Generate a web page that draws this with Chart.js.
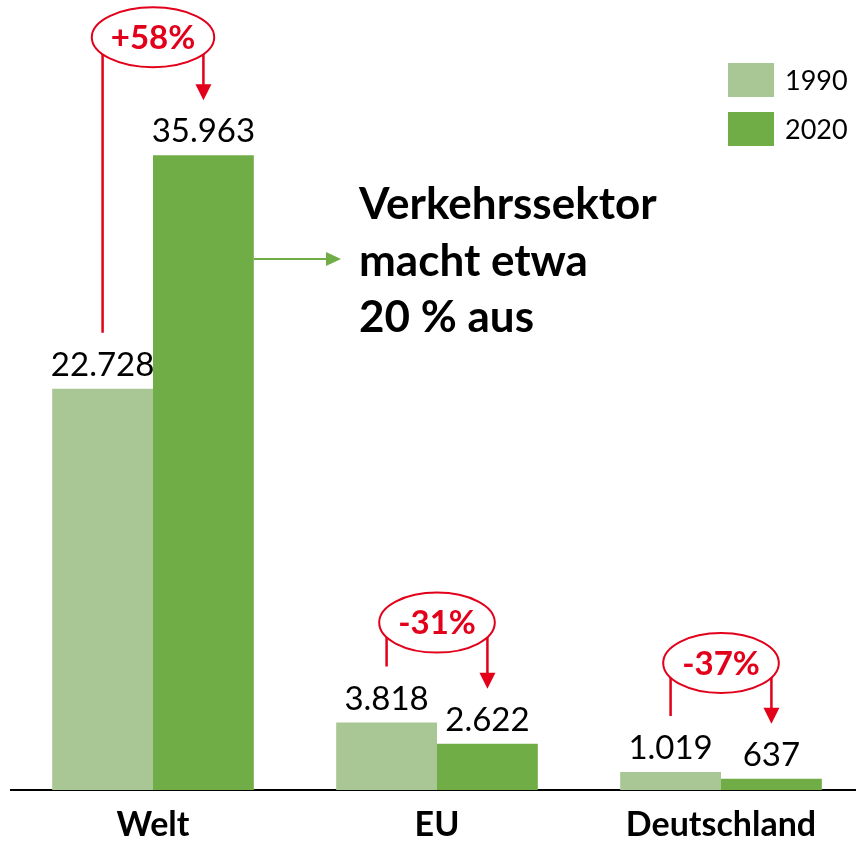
<!DOCTYPE html>
<html>
<head>
<meta charset="utf-8">
<script src="https://cdn.jsdelivr.net/npm/chart.js@4"></script>
<style>
  html, body { margin: 0; padding: 0; background: #fff; overflow: hidden; }
  #wrap { width: 856px; height: 842px; overflow: hidden; }
</style>
</head>
<body>
<div id="wrap"><canvas id="chart" width="870" height="842"></canvas></div>
<script>
const categories = ['Welt', 'EU', 'Deutschland'];
const years = ['1990', '2020'];
const values1990 = [22728, 3818, 1019];
const values2020 = [35963, 2622, 637];
const changeLabels = ['+58%', '-31%', '-37%'];
const noteLines = ['Verkehrssektor', 'macht etwa', '20 % aus'];

const lightGreen = '#A9C695';
const green = '#70AD47';
const red = '#E2001A';
// how far the ellipse sits above the taller bar of each group
const ellipseLift = [118, 100, 109];

function fmt(v) {
  return v.toString().replace(/\B(?=(\d{3})+(?!\d))/g, '.');
}

function arrowHead(ctx, x, y, dir, len, half) {
  ctx.beginPath();
  if (dir === 'down') {
    ctx.moveTo(x, y);
    ctx.lineTo(x - half, y - len);
    ctx.lineTo(x + half, y - len);
  } else {
    ctx.moveTo(x, y);
    ctx.lineTo(x - len, y - half);
    ctx.lineTo(x - len, y + half);
  }
  ctx.closePath();
  ctx.fill();
}

const annotate = {
  id: 'annotate',
  afterDatasetsDraw(chart) {
    const ctx = chart.ctx;
    const m0 = chart.getDatasetMeta(0).data;
    const m1 = chart.getDatasetMeta(1).data;
    ctx.save();

    // value labels
    ctx.fillStyle = '#000';
    ctx.textAlign = 'center';
    ctx.textBaseline = 'alphabetic';
    ctx.font = '33px Lato';
    [m0, m1].forEach((bars, d) => {
      bars.forEach((bar, i) => {
        ctx.fillText(fmt(chart.data.datasets[d].data[i]), bar.x, bar.y - 13);
      });
    });

    // change bubbles
    changeLabels.forEach((txt, i) => {
      const a = m0[i], b = m1[i];
      const cx = (a.x + b.x) / 2;
      const cy = Math.min(a.y, b.y) - ellipseLift[i];
      ctx.strokeStyle = red;
      ctx.fillStyle = red;
      ctx.lineWidth = 2.5;
      ctx.beginPath();
      ctx.moveTo(a.x, cy);
      ctx.lineTo(a.x, a.y - 56);
      ctx.moveTo(b.x, cy);
      ctx.lineTo(b.x, b.y - 55 - 14);
      ctx.stroke();
      arrowHead(ctx, b.x, b.y - 55, 'down', 16, 8);

      ctx.font = 'bold 33px Lato';
      const w = ctx.measureText(txt).width;
      ctx.beginPath();
      ctx.ellipse(cx, cy, w / 2 + 19, 30, 0, 0, Math.PI * 2);
      ctx.fillStyle = '#fff';
      ctx.fill();
      ctx.lineWidth = 2;
      ctx.stroke();
      ctx.fillStyle = red;
      ctx.textBaseline = 'middle';
      ctx.fillText(txt, cx, cy + 1);
      ctx.textBaseline = 'alphabetic';
    });

    // green arrow + note
    const top = m1[0];
    const ax = top.x + top.width / 2;
    ctx.strokeStyle = green;
    ctx.fillStyle = green;
    ctx.lineWidth = 2;
    ctx.beginPath();
    ctx.moveTo(ax, 259);
    ctx.lineTo(328, 259);
    ctx.stroke();
    arrowHead(ctx, 341, 259, 'right', 15, 7);

    ctx.fillStyle = '#000';
    ctx.textAlign = 'left';
    ctx.font = 'bold 44px Lato';
    noteLines.forEach((line, k) => {
      ctx.fillText(line, 359, 219 + k * 56.5);
    });

    // legend
    ctx.font = '27px Lato';
    ctx.textBaseline = 'middle';
    chart.data.datasets.forEach((ds, d) => {
      const y = 63 + d * 49;
      ctx.fillStyle = ds.backgroundColor;
      ctx.fillRect(728, y, 46, 34);
      ctx.fillStyle = '#000';
      ctx.fillText(ds.label, 785, y + 18);
    });

    ctx.restore();
  }
};

new Chart(document.getElementById('chart').getContext('2d'), {
  type: 'bar',
  data: {
    labels: categories,
    datasets: [
      {
        label: years[0],
        data: values1990,
        backgroundColor: lightGreen,
        categoryPercentage: 0.71,
        barPercentage: 1.0,
      },
      {
        label: years[1],
        data: values2020,
        backgroundColor: green,
        categoryPercentage: 0.71,
        barPercentage: 1.0,
      },
    ],
  },
  options: {
    responsive: false,
    animation: false,
    layout: {
      padding: { top: 84, left: 11, right: 7, bottom: 0 },
    },
    plugins: {
      legend: { display: false },
      tooltip: { enabled: false },
    },
    scales: {
      x: {
        grid: { display: false, drawTicks: false },
        border: { display: true, color: '#000', width: 2 },
        afterFit(scale) { scale.height = 52; },
        ticks: {
          color: '#000',
          padding: 18,
          font: { family: 'Lato', size: 34, weight: 'bold', lineHeight: 1 },
        },
      },
      y: {
        display: false,
        min: 0,
        max: 40000,
      },
    },
  },
  plugins: [annotate],
});
</script>
</body>
</html>
